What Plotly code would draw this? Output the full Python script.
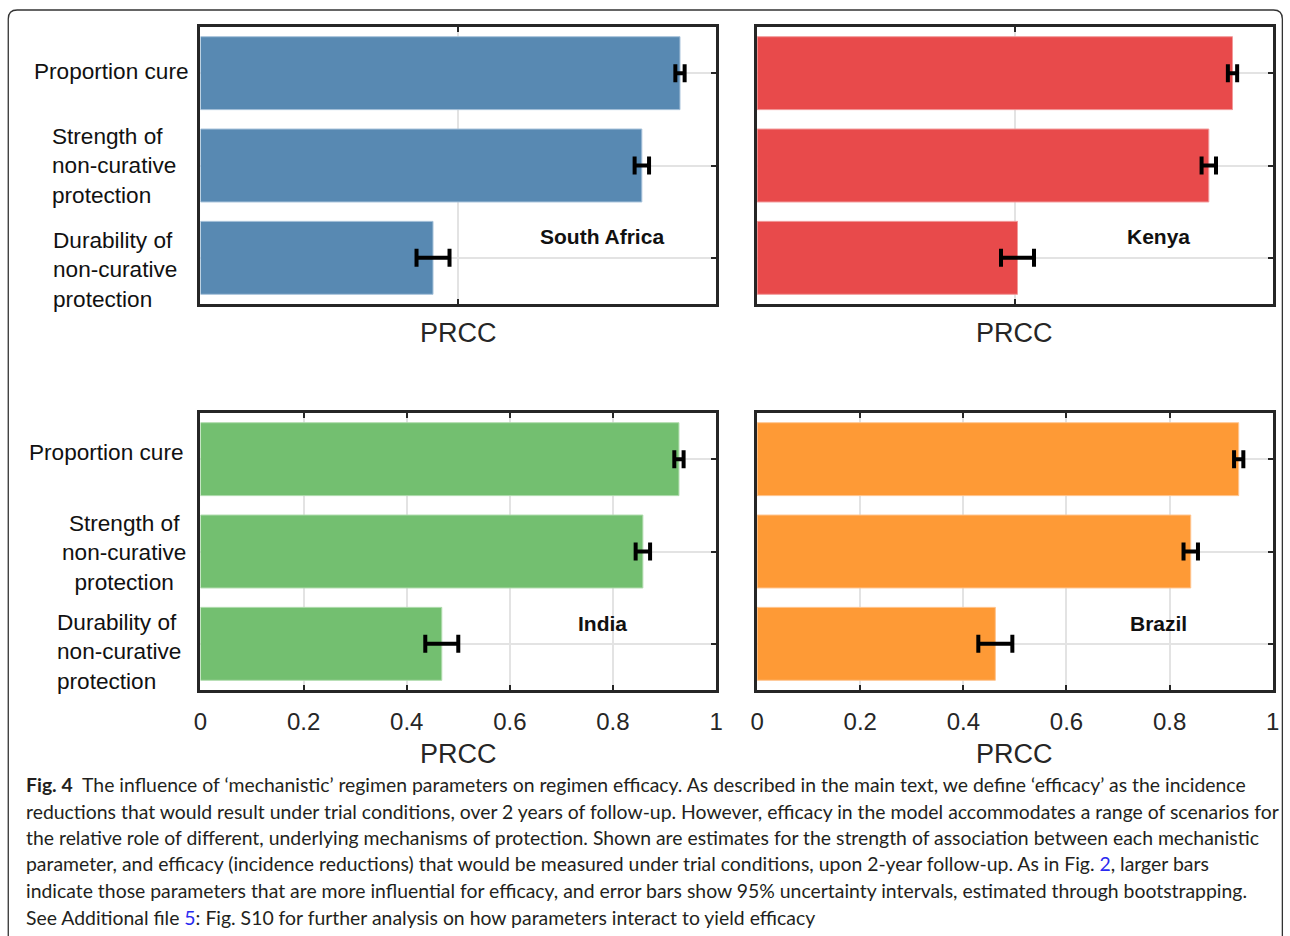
import plotly.graph_objects as go

W, H = 1290, 936

# Regimen parameters (top to bottom) and PRCC estimates with 95% bootstrap half-widths
params = ["Proportion cure", "Strength of non-curative protection", "Durability of non-curative protection"]
countries = ["South Africa", "Kenya", "India", "Brazil"]

south_africa_prcc = [0.930, 0.856, 0.451]
south_africa_err = [0.009, 0.014, 0.032]
kenya_prcc = [0.922, 0.876, 0.505]
kenya_err = [0.009, 0.014, 0.032]
india_prcc = [0.928, 0.858, 0.468]
india_err = [0.009, 0.014, 0.032]
brazil_prcc = [0.934, 0.841, 0.462]
brazil_err = [0.009, 0.014, 0.033]

bar_colors = ["#5889b2", "#e84a4b", "#73bf70", "#fe9a36"]
edge_colors = ["#a7c2da", "#f29a9a", "#b1dcae", "#ffc590"]

x_ticks_top = [0.5]
x_ticks_bottom = [0, 0.2, 0.4, 0.6, 0.8, 1]
x_tick_text_bottom = ["0", "0.2", "0.4", "0.6", "0.8", "1"]

# horizontal layout spread about the page centre
SPREAD = 1 / 0.988


def px(x):
    return ((x - W / 2) * SPREAD + W / 2) / W


def py(y):
    return 1 - y / H


# panel boxes in pixels: (left, right, top, bottom)
panels = [(201, 716, 27, 304), (757, 1272, 27, 304), (201, 716, 413, 690), (757, 1272, 413, 690)]
values = [south_africa_prcc, kenya_prcc, india_prcc, brazil_prcc]
errors = [south_africa_err, kenya_err, india_err, brazil_err]

AX_FONT = "Arial, Liberation Sans, Helvetica, sans-serif"
FRAME = "#262626"
GRID = "#e3e3e3"

fig = go.Figure()
layout = {}
annotations = []

for i, (box, vals, errs) in enumerate(zip(panels, values, errors)):
    n = "" if i == 0 else str(i + 1)
    xa, ya = "x" + n, "y" + n
    left, right, top, bottom = box
    fig.add_trace(go.Bar(
        x=vals, y=params, orientation="h", xaxis=xa, yaxis=ya,
        width=0.79,
        marker=dict(color=bar_colors[i], line=dict(color=edge_colors[i], width=1)),
        error_x=dict(type="data", array=errs, visible=True, color="black", thickness=4, width=9),
        showlegend=False, hoverinfo="skip",
    ))
    is_bottom = i >= 2
    layout["xaxis" + n] = dict(
        domain=[px(left), px(right)], anchor=ya, range=[0, 1],
        tickvals=x_ticks_bottom if is_bottom else x_ticks_top,
        ticktext=x_tick_text_bottom if is_bottom else None,
        showticklabels=is_bottom,
        ticks="inside", ticklen=5, tickwidth=2, tickcolor=FRAME,
        showline=True, linecolor=FRAME, linewidth=2.5, mirror="ticks",
        showgrid=True, gridcolor=GRID, gridwidth=1.5, zeroline=False,
        tickfont=dict(family=AX_FONT, size=24, color="#262626"),
        ticklabelstandoff=8,
    )
    layout["yaxis" + n] = dict(
        domain=[py(bottom), py(top)], anchor=xa,
        categoryorder="array", categoryarray=params, autorange="reversed",
        side="right", showticklabels=False,
        ticks="inside", ticklen=5, tickwidth=2, tickcolor=FRAME,
        showline=True, linecolor=FRAME, linewidth=2.5, mirror=True,
        showgrid=True, gridcolor=GRID, gridwidth=1.5, zeroline=False,
    )
    # country label inside the panel
    annotations.append(dict(
        text="<b>" + countries[i] + "</b>", xref=xa + " domain", yref=ya + " domain",
        x=0.779, y=1 - (237 - 27) / 277, xanchor="center", yanchor="middle", showarrow=False,
        font=dict(family=AX_FONT, size=21, color="#111111"),
    ))
    # axis title
    title_y = 333 if not is_bottom else 754
    annotations.append(dict(
        text="PRCC", xref=xa + " domain", yref="paper", x=0.5, y=py(title_y),
        xanchor="center", yanchor="middle", showarrow=False,
        font=dict(family=AX_FONT, size=27, color="#262626"),
    ))

# parameter labels to the left of each row of panels
row_labels = [
    ("Proportion cure", 33, 72, "left", "left"),
    ("Strength of<br>non-curative<br>protection", 51, 166, "left", "left"),
    ("Durability of<br>non-curative<br>protection", 52, 270, "left", "left"),
    ("Proportion cure", 28, 452, "left", "left"),
    ("Strength of<br>non-curative<br>protection", 123.5, 553, "center", "center"),
    ("Durability of<br>non-curative<br>protection", 56, 652, "left", "left"),
]
for text, x, y, anchor, align in row_labels:
    annotations.append(dict(
        text=text, xref="paper", yref="paper", x=px(x - 0.5 if anchor == "left" else x + 1.5), y=py(y),
        xanchor=anchor, yanchor="middle", align=align, showarrow=False,
        font=dict(family=AX_FONT, size=22.6, color="#111111"),
    ))

# figure caption
LINK = "#2a2af0"
caption_lines = [
    "<b>Fig. 4</b>  The influence of \u2018mechanistic\u2019 regimen parameters on regimen efficacy. As described in the main text, we define \u2018efficacy\u2019 as the incidence",
    "reductions that would result under trial conditions, over 2 years of follow-up. However, efficacy in the model accommodates a range of scenarios for",
    "the relative role of different, underlying mechanisms of protection. Shown are estimates for the strength of association between each mechanistic",
    "parameter, and efficacy (incidence reductions) that would be measured under trial conditions, upon 2-year follow-up. As in Fig. <span style='color:" + LINK + "'>2</span>, larger bars",
    "indicate those parameters that are more influential for efficacy, and error bars show 95% uncertainty intervals, estimated through bootstrapping.",
    "See Additional file <span style='color:" + LINK + "'>5</span>: Fig. S10 for further analysis on how parameters interact to yield efficacy",
]
caption_y = [784, 811, 837, 863, 890, 917]
for text, y in zip(caption_lines, caption_y):
    annotations.append(dict(
        text=text, xref="paper", yref="paper", x=px(25), y=py(y),
        xanchor="left", yanchor="middle", align="left", showarrow=False,
        font=dict(family="Lato, sans-serif", size=19.4, color="#231f20"),
    ))

# rounded outer frame around figure and caption
r = 9
x0, x1, y0, y1 = px(9), 0.9995, py(10), py(960)
rx, ry = r / W, r / H
path = (
    f"M {x0},{y1} L {x0},{y0 - ry} Q {x0},{y0} {x0 + rx},{y0} "
    f"L {x1 - rx},{y0} Q {x1},{y0} {x1},{y0 - ry} L {x1},{y1}"
)
shapes = [dict(type="path", path=path, xref="paper", yref="paper",
               line=dict(color="#333333", width=1.3))]

fig.update_layout(
    width=W, height=H, autosize=False, margin=dict(l=0, r=0, t=0, b=0),
    paper_bgcolor="white", plot_bgcolor="white",
    annotations=annotations, shapes=shapes, bargap=0.2,
    **layout,
)

fig.write_html(
    "out.html",
    config={"responsive": False, "displayModeBar": False},
    post_script="document.documentElement.style.overflow='hidden';document.body.style.margin='0';document.body.style.overflow='hidden';",
)
